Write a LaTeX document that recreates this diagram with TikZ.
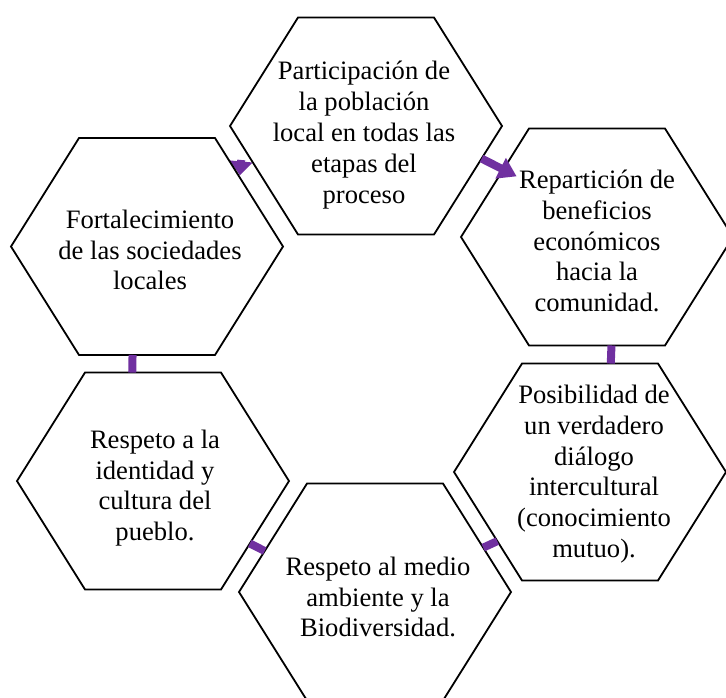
\documentclass[tikz,border=0pt]{standalone}
\usepackage{fontspec}
\setmainfont{Liberation Serif}
\usepackage{tikz}
\usetikzlibrary{shapes.geometric,arrows.meta,backgrounds}
\definecolor{linkpurple}{HTML}{7030A0}
\tikzset{
  % --- the hexagon cells -----------------------------------------------------
  cell/.style={regular polygon,regular polygon sides=6,draw=black,fill=white,
               line width=0.9pt,minimum size=136pt,inner sep=0pt,outer sep=0pt,
               transform shape,yscale=0.921},
  celltext/.style={align=center,inner sep=0pt,
                   font=\fontsize{13.3}{15.4}\selectfont},
  % --- links between cells ---------------------------------------------------
  link/.style={linkpurple,line width=4pt},
  flow/.style={link,-{Triangle[length=9pt,width=11pt]}},
}

\begin{document}
\begin{tikzpicture}[x=0.5pt, y=-0.5pt]
  \useasboundingbox (0,0) rectangle (726,697);

  % ---- the six cells, clockwise from the top ----
  \node[cell] (h1) at (366,126)   {};
  \node[cell] (h2) at (597,237)   {};
  \node[cell] (h3) at (590,472)   {};
  \node[cell] (h4) at (375,592)   {};
  \node[cell] (h5) at (153,481)   {};
  \node[cell] (h6) at (147,246.5) {};

  % ---- their texts ----
  \node[celltext] (t1) at (364,135) {Participación de\\la población\\local en todas las\\etapas del\\proceso};
  \node[celltext] (t2) at (597,241) {Repartición de\\beneficios\\económicos\\hacia la\\comunidad.};
  \node[celltext] (t3) at (594,474) {Posibilidad de\\un verdadero\\diálogo\\intercultural\\(conocimiento\\mutuo).};
  \node[celltext] (t4) at (378,597) {Respeto al medio\\ambiente y la\\Biodiversidad.};
  \node[celltext] (t5) at (155,488) {Respeto a la\\identidad y\\cultura del\\pueblo.};
  \node[celltext] (t6) at (150,250) {Fortalecimiento\\de las sociedades\\locales};

  % ---- links round the ring ----
  \draw[flow,shorten >=-7.5pt] (h1.343) -- (h2.142);
  \draw[link] (h2.277) -- (h3.80);
  \draw[link] (h3.219) -- (h4.24);
  \draw[link] (h4.158) -- (h5.325);
  \draw[link] (h5.100) -- (h6.263);
  % the last head sits half hidden behind the cells
  \begin{scope}[on background layer]
    \draw[link,-{Triangle[length=7pt,width=11pt]},shorten <=7pt,shorten >=1pt]
      (h1.190) -- (h6.39);
  \end{scope}
\end{tikzpicture}
\end{document}
